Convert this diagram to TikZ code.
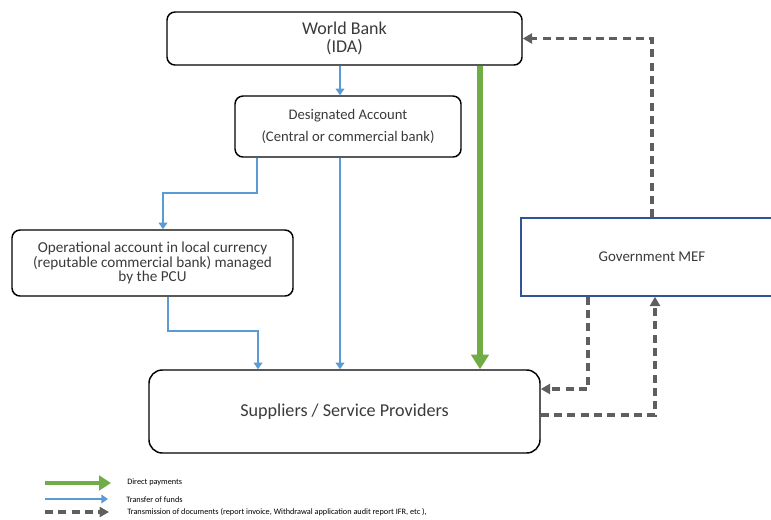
\documentclass[tikz,border=0pt]{standalone}
\usepackage{fontspec}
\setmainfont{Carlito}
\usetikzlibrary{arrows.meta, calc, positioning}
\definecolor{fundblue}{HTML}{5B9BD5}
\definecolor{paygreen}{HTML}{70AD47}
\definecolor{docgray}{HTML}{5F5F5F}
\definecolor{mefblue}{HTML}{2F5597}
\definecolor{txtgray}{HTML}{3A3A3A}

\begin{document}
\begin{tikzpicture}[x=0.75pt, y=-0.75pt,
	box/.style={draw=black, line width=1.1pt, rounded corners=6pt, align=center, text=txtgray, inner sep=0pt},
	fund/.style={draw=fundblue, line width=1.9pt, -{Triangle[length=5pt,width=6.5pt]}},
	pay/.style={draw=paygreen, line width=3.8pt, -{Triangle[length=11pt,width=13pt]}},
	doc/.style={draw=docgray, line width=2.3pt, dash pattern=on 6pt off 4pt, -{Triangle[length=7pt,width=7.5pt]}},
	legtext/.style={anchor=west, inner sep=0pt, font=\fontsize{6.2}{7}\selectfont, text=black}]
	\useasboundingbox (0,0) rectangle (771,519);
	
	% caixas
	\node [box, minimum width=266.25pt, minimum height=39.75pt, font=\fontsize{13.5}{13.5}\selectfont] (wb) at (344.5,38.5) {World Bank\\(IDA)};
	\node [box, minimum width=169.5pt, minimum height=45.75pt, font=\fontsize{11}{17}\selectfont] (da) at (348,126.5) {Designated Account\\(Central or commercial bank)};
	\node [box, minimum width=210.75pt, minimum height=49.5pt, font=\fontsize{11.4}{11}\selectfont] (oa) at (152.5,263) {Operational account in local currency\\(reputable commercial bank) managed\\by the PCU};
	\node [box, rounded corners=10pt, minimum width=293.25pt, minimum height=62.25pt, font=\fontsize{13.6}{15}\selectfont] (sup) at (344.5,411.5) {Suppliers / Service Providers};
	\node [draw=mefblue, line width=1.1pt, minimum width=196.5pt, minimum height=58.5pt, inner sep=0pt, text=txtgray, font=\fontsize{11.2}{12}\selectfont] (mef) at (652,257) {Government MEF};
	
	% colunas e cantos
	\coordinate (c1) at (340,0);
	\coordinate (c2) at (480,0);
	\coordinate (c3) at (257,0);
	\coordinate (k1) at (163,193);
	\coordinate (c4) at (168,0);
	\coordinate (k2) at (258,331);
	\coordinate (d1) at (652,0);
	\coordinate (d2) at (588,0);
	\coordinate (d3) at (655,0);
	
	% transferencia de fundos
	\draw [fund] (wb.south -| c1) -- (da.north -| c1);
	\draw [fund] (da.south -| c3) |- (k1) -- (oa.north -| k1);
	\draw [fund] (da.south -| c1) -- (sup.north -| c1);
	\draw [fund] (oa.south -| c4) |- (k2) -- (sup.north -| k2);
	
	% pagamento direto
	\draw [pay] (wb.south -| c2) -- (sup.north -| c2);
	
	% documentos
	\draw [doc] (mef.north -| d1) |- (wb.east);
	\draw [doc] (mef.south -| d2) |- ($(sup.east)+(0,-22.5)$);
	\draw [doc] ($(sup.east)+(0,3.5)$) -| (mef.south -| d3);
	
	% legenda
	\coordinate (l1) at (45,483);
	\coordinate (l2) at (45,499);
	\coordinate (l3) at (45,512);
	\node [legtext] (t1) at (127,482) {Direct payments};
	\node [legtext] (t2) at (126,500) {Transfer of funds};
	\node [legtext] (t3) at (127,512) {Transmission of documents (report invoice, Withdrawal application audit report IFR, etc ),};
	\draw [pay, line width=3.6pt, -{Triangle[length=9pt,width=11pt]}] (l1) -- ($(t1.west |- l1)+(-16,0)$);
	\draw [fund, line width=1.5pt] (l2) -- ($(t2.west |- l2)+(-18,0)$);
	\draw [doc] (l3) -- ($(t3.west |- l3)+(-18,0)$);
\end{tikzpicture}
\end{document}
